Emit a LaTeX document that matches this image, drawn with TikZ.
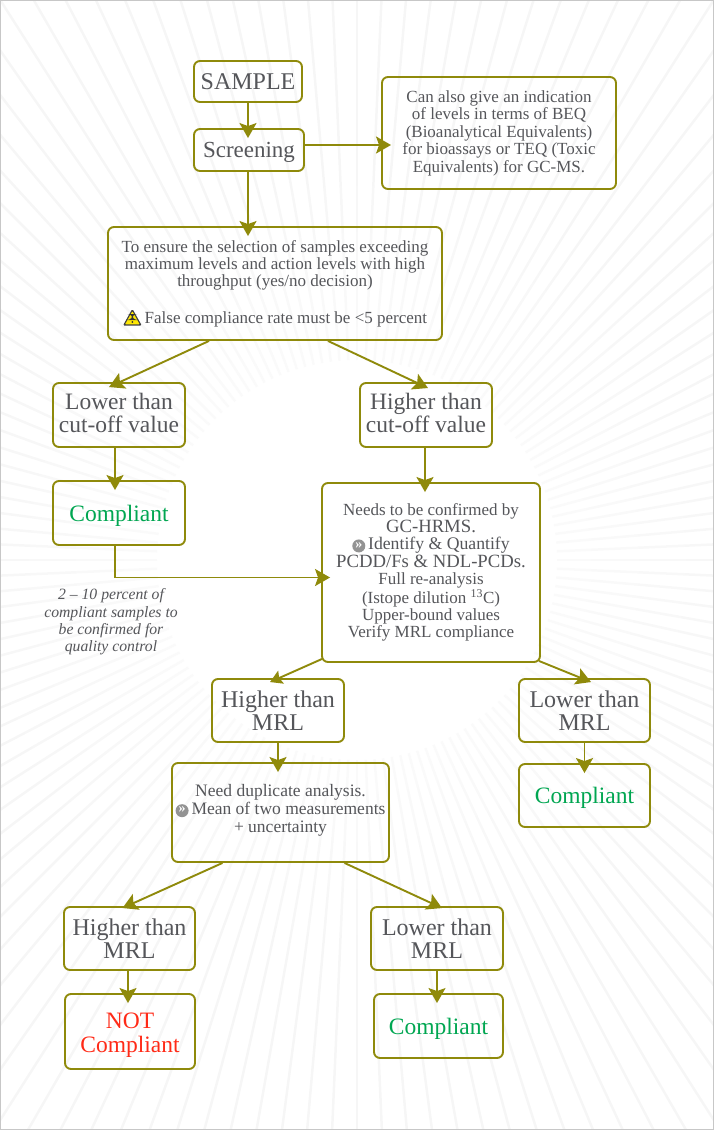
\documentclass[tikz,border=0pt]{standalone}
\usepackage{fontspec}
\setmainfont{Liberation Serif}
\usetikzlibrary{arrows.meta,fadings}
\definecolor{olive}{HTML}{8F8A0B}
\definecolor{inktext}{HTML}{55565A}
\definecolor{passgreen}{HTML}{00A651}
\definecolor{failred}{HTML}{FF2A17}
\tikzfading[name=fadecentre, inner color=transparent!0, outer color=transparent!100]
\tikzset{
	flowbox/.style = {draw = olive, line width = 1.9pt, rounded corners = 6pt, inner sep = 0pt, align = center, text = inktext},
	passbox/.style = {flowbox, text = passgreen, text depth = 0pt, font = \fontsize{23.5}{24}\selectfont},
	flowline/.style = {draw = olive, line width = 1.9pt, -{Stealth[length = 15pt, width = 17pt, inset = 3pt]}},
	smalltip/.style = {draw = olive, line width = 1.9pt, -{Stealth[length = 12pt, width = 14pt, inset = 2pt]}},
	intoBox/.style = {shorten >= -10pt}
}
\newcommand{\warnsign}{\tikz[baseline = -1pt, x = 1pt, y = 1pt]{\fill[black!75, rounded corners = 1.5pt] (-9.5,-3.5) -- (9.5,-3.5) -- (0,13.5) -- cycle; \fill[yellow!90!orange, rounded corners = 0.8pt] (-7.3,-2.2) -- (7.3,-2.2) -- (0,11) -- cycle; \fill[black!80] (-0.5,2.2) -- (0.5,2.2) -- (1,8.2) -- (-1,8.2) -- cycle; \fill[black!80] (0,0.2) circle (0.95);}}
\newcommand{\pointsign}{\tikz[baseline = -4pt, x = 1pt, y = 1pt]{\fill[gray!85] (0,0) circle (6.5); \node[draw = none, minimum width = 0pt, minimum height = 0pt, white, inner sep = 0pt, font = \bfseries\fontsize{14}{14}\selectfont] (pointglyph) at (0,0.8) {»};}}
\begin{document}
\begin{tikzpicture}[x = 1pt, y = -1pt]
	\useasboundingbox (0,0) rectangle (714,1130);
	\begin{scope}
		\clip (0,0) rectangle (714,1130);
		\foreach \ang in {0,2.5,...,357.5}
			\draw[black!3.5, line width = 2.5pt] (357,560) ++(\ang:200) -- ++(\ang:600);
		\fill[white, path fading = fadecentre] (357,560) circle (420);
	\end{scope}
	\draw[black!22, line width = 1.5pt] (0,0) rectangle (714,1130);
	% boxes
	\node[flowbox, minimum width = 108pt, minimum height = 41pt, font = \fontsize{24}{24}\selectfont] (sample) at (248,81.5) {SAMPLE};
	\node[flowbox, minimum width = 110pt, minimum height = 42pt, text depth = 0pt, font = \fontsize{23}{24}\selectfont] (screening) at (249,150) {Screening};
	\node[flowbox, minimum width = 234pt, minimum height = 112pt, font = \fontsize{17}{17.5}\selectfont] (note) at (499,133) {Can also give an indication\\of levels in terms of BEQ\\(Bioanalytical Equivalents)\\for bioassays or TEQ (Toxic\\Equivalents) for GC-MS.};
	\node[flowbox, minimum width = 334pt, minimum height = 113pt, font = \fontsize{17}{17.3}\selectfont] (ensure) at (275,283.5) {To ensure the selection of samples exceeding\\maximum levels and action levels with high\\throughput (yes/no decision)\\[17.3pt]\warnsign\,False compliance rate must be <5 percent};
	\node[flowbox, minimum width = 132pt, minimum height = 64pt, font = \fontsize{23.5}{23.5}\selectfont] (lower) at (119,415) {Lower than\\cut-off value\\[-19.5pt]\mbox{}};
	\node[flowbox, minimum width = 132pt, minimum height = 64pt, font = \fontsize{23.5}{23.5}\selectfont] (higher) at (426,415) {Higher than\\cut-off value\\[-19.5pt]\mbox{}};
	\node[passbox, minimum width = 132pt, minimum height = 64pt] (compA) at (119,513) {Compliant};
	\node[flowbox, minimum width = 218pt, minimum height = 179pt, font = \fontsize{17}{17.3}\selectfont] (confirm) at (431,572.5) {Needs to be confirmed by\\{\fontsize{18.7}{17.3}\selectfont GC-HRMS.}\\\pointsign\,{\fontsize{17.7}{17.3}\selectfont Identify \& Quantify}\\{\fontsize{18.7}{17.3}\selectfont PCDD/Fs \& NDL-PCDs.}\\Full re-analysis\\(Istope dilution \textsuperscript{13}C)\\Upper-bound values\\Verify MRL compliance};
	\node[flowbox, minimum width = 132pt, minimum height = 63pt, font = \fontsize{24}{23}\selectfont] (hmrlA) at (278,710.5) {Higher than\\MRL};
	\node[flowbox, minimum width = 131pt, minimum height = 63pt, font = \fontsize{24}{23}\selectfont] (lmrlA) at (584.5,710.5) {Lower than\\MRL};
	\node[passbox, minimum width = 131pt, minimum height = 63pt] (compB) at (584.5,795.5) {Compliant};
	\node[flowbox, minimum width = 217pt, minimum height = 99pt, font = \fontsize{17.5}{17.8}\selectfont] (dup) at (280.5,812.5) {Need duplicate analysis.\\\pointsign\,Mean of two measurements\\+ uncertainty\\[-10pt]\mbox{}};
	\node[flowbox, minimum width = 131pt, minimum height = 63pt, font = \fontsize{24}{23}\selectfont] (hmrlB) at (129.5,938.5) {Higher than\\MRL};
	\node[flowbox, minimum width = 132pt, minimum height = 63pt, font = \fontsize{24}{23}\selectfont] (lmrlB) at (437,938.5) {Lower than\\MRL};
	\node[flowbox, minimum width = 130pt, minimum height = 75pt, font = \fontsize{23.5}{24}\selectfont, text = failred] (notc) at (130,1031.5) {\rule{0pt}{22pt}NOT\\Compliant};
	\node[passbox, minimum width = 129pt, minimum height = 64pt] (compC) at (438.5,1026) {Compliant};
	\node[align = center, text = inktext, inner sep = 0pt, font = \itshape\fontsize{15.7}{17.3}\selectfont] (qcnote) at (111,622) {2 -- 10 percent of\\compliant samples to\\be confirmed for\\quality control};
	% connectors
	\draw[flowline, intoBox] (sample.south) -- (sample.south |- screening.north);
	\draw[flowline] ([yshift = 5pt]screening.east) -- ([xshift = 10pt, yshift = -12pt]note.west);
	\draw[flowline, intoBox] ([xshift = -1pt]screening.south) -- ([xshift = -1pt]screening.south |- ensure.north);
	\draw[flowline] ([xshift = -66pt]ensure.south) -- ([xshift = -10pt, yshift = -5pt]lower.north);
	\draw[flowline] ([xshift = 53pt]ensure.south) -- ([xshift = 2pt, yshift = -6pt]higher.north);
	\draw[flowline, intoBox] ([xshift = -4pt]lower.south) -- ([xshift = -4pt]lower.south |- compA.north);
	\draw[flowline, intoBox] ([xshift = -1pt]higher.south) -- ([xshift = -1pt]higher.south |- confirm.north);
	\draw[flowline] ([xshift = -4pt]compA.south) |- ([xshift = 9pt, yshift = -5pt]confirm.west);
	\draw[smalltip] ([xshift = 1pt, yshift = 4pt]confirm.south west) -- ([xshift = -8pt, yshift = -4pt]hmrlA.north);
	\draw[flowline] ([xshift = -2pt, yshift = 2pt]confirm.south east) -- ([xshift = 6.5pt, yshift = -4pt]lmrlA.north);
	\draw[flowline, intoBox] (hmrlA.south) -- (hmrlA.south |- dup.north);
	\draw[flowline, intoBox] (lmrlA.south) -- (lmrlA.south |- compB.north);
	\draw[flowline] ([xshift = -58pt]dup.south) -- ([xshift = -7pt, yshift = -2pt]hmrlB.north);
	\draw[flowline] ([xshift = 64pt]dup.south) -- ([xshift = 5pt, yshift = -2pt]lmrlB.north);
	\draw[flowline, intoBox] ([xshift = -1.5pt]hmrlB.south) -- ([xshift = -1.5pt]hmrlB.south |- notc.north);
	\draw[flowline, intoBox] (lmrlB.south) -- (lmrlB.south |- compC.north);
\end{tikzpicture}
\end{document}
